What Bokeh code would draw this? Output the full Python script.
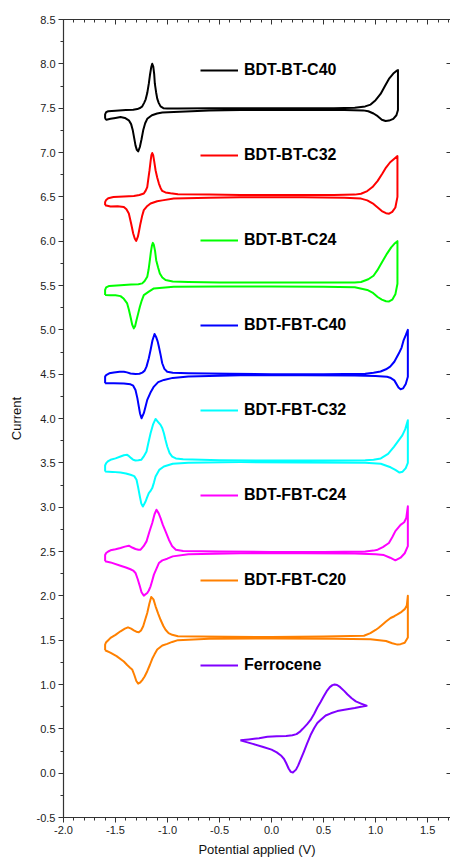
from bokeh.plotting import figure
from bokeh.models import (Range1d, LinearAxis, SingleIntervalTicker, PrintfTickFormatter,
                          Legend, LegendItem)
from bokeh.embed import file_html
from bokeh.resources import INLINE

# ---------------- data ----------------
names = ["BDT-BT-C40", "BDT-BT-C32", "BDT-BT-C24", "BDT-FBT-C40",
         "BDT-FBT-C32", "BDT-FBT-C24", "BDT-FBT-C20", "Ferrocene"]
colors = ["#000000", "#FF0000", "#00FF00", "#0000FF",
          "#00FFFF", "#FF00FF", "#FF8000", "#8000FF"]

bt_c40_x = [-1.600, -1.600, -1.590, -1.570, -1.50, -1.40, -1.33, -1.29, -1.26, -1.243, -1.225, -1.21,
            -1.195, -1.18, -1.168, -1.157, -1.147, -1.137, -1.128, -1.122, -1.11, -1.099, -1.085, -1.067,
            -1.04, -1.003, -0.90, -0.60, -0.30, 0.00, 0.30, 0.60, 0.80, 0.90, 0.952, 1.00, 1.048, 1.09,
            1.128, 1.17, 1.20, 1.215,
            1.215, 1.215, 1.20, 1.17, 1.13, 1.096, 1.06, 1.02, 0.98, 0.93, 0.88, 0.70, 0.30, 0.00, -0.30,
            -0.60, -0.94, -1.05, -1.10, -1.15, -1.195, -1.215, -1.234, -1.25, -1.266, -1.282, -1.295,
            -1.308, -1.32, -1.334, -1.35, -1.372, -1.41, -1.452, -1.50, -1.548, -1.587, -1.600]
bt_c40_y = [7.38, 7.43, 7.455, 7.465, 7.472, 7.478, 7.482, 7.49, 7.505, 7.52, 7.56, 7.60,
            7.67, 7.776, 7.88, 7.96, 8.00, 7.97, 7.88, 7.776, 7.68, 7.607, 7.56, 7.52,
            7.50, 7.495, 7.495, 7.50, 7.50, 7.50, 7.50, 7.50, 7.505, 7.52, 7.54, 7.59, 7.66, 7.75,
            7.83, 7.89, 7.92, 7.93,
            7.70, 7.48, 7.42, 7.38, 7.36, 7.355, 7.37, 7.41, 7.44, 7.465, 7.475, 7.48, 7.48, 7.48, 7.48,
            7.475, 7.456, 7.45, 7.44, 7.42, 7.38, 7.33, 7.25, 7.15, 7.062, 7.013, 7.03,
            7.08, 7.16, 7.25, 7.32, 7.363, 7.39, 7.40, 7.39, 7.38, 7.37, 7.38]

bt_c32_x = [-1.60, -1.60, -1.59, -1.57, -1.52, -1.42, -1.324, -1.27, -1.228, -1.21, -1.195, -1.185,
            -1.173, -1.163, -1.155, -1.147, -1.138, -1.128, -1.115, -1.10, -1.083, -1.067, -1.051, -1.02,
            -0.971, -0.90, -0.60, -0.30, 0.00, 0.30, 0.60, 0.80, 0.86, 0.92, 0.97, 1.02, 1.064, 1.10,
            1.14, 1.18, 1.21,
            1.21, 1.21, 1.19, 1.16, 1.13, 1.10, 1.06, 1.02, 0.98, 0.92, 0.86, 0.70, 0.30, 0.00, -0.30,
            -0.60, -0.94, -1.05, -1.10, -1.163, -1.20, -1.228, -1.245, -1.26, -1.273, -1.285, -1.301,
            -1.315, -1.33, -1.35, -1.372, -1.395, -1.42, -1.48, -1.548, -1.60]
bt_c32_y = [6.405, 6.44, 6.465, 6.485, 6.499, 6.505, 6.51, 6.52, 6.537, 6.57, 6.61, 6.70,
            6.80, 6.90, 6.97, 6.994, 6.97, 6.90, 6.80, 6.72, 6.65, 6.60, 6.567, 6.55,
            6.54, 6.53, 6.525, 6.52, 6.52, 6.52, 6.52, 6.525, 6.535, 6.565, 6.61, 6.68, 6.76, 6.83,
            6.89, 6.93, 6.96,
            6.70, 6.50, 6.38, 6.33, 6.31, 6.315, 6.34, 6.38, 6.42, 6.46, 6.48, 6.49, 6.495, 6.495, 6.495,
            6.49, 6.48, 6.46, 6.45, 6.425, 6.39, 6.35, 6.28, 6.20, 6.12, 6.05, 6.003,
            6.03, 6.087, 6.20, 6.312, 6.36, 6.386, 6.395, 6.39, 6.405]

bt_c24_x = [-1.60, -1.60, -1.59, -1.56, -1.452, -1.35, -1.28, -1.243, -1.22, -1.195, -1.182, -1.17,
            -1.16, -1.15, -1.141, -1.132, -1.12, -1.109, -1.09, -1.074, -1.05, -1.019, -0.95, -0.80,
            -0.50, 0.00, 0.50, 0.80, 0.86, 0.93, 0.98, 1.016, 1.06, 1.11, 1.15, 1.18, 1.21,
            1.21, 1.21, 1.19, 1.16, 1.13, 1.10, 1.06, 1.02, 0.97, 0.92, 0.80, 0.50, 0.00, -0.50,
            -0.94, -1.05, -1.131, -1.18, -1.228, -1.248, -1.266, -1.283, -1.298, -1.312, -1.324, -1.34,
            -1.356, -1.372, -1.388, -1.42, -1.452, -1.50, -1.55, -1.60]
bt_c24_y = [5.392, 5.45, 5.478, 5.495, 5.504, 5.51, 5.515, 5.524, 5.55, 5.598, 5.68, 5.786,
            5.88, 5.95, 5.981, 5.96, 5.89, 5.786, 5.70, 5.636, 5.59, 5.561, 5.545, 5.54,
            5.535, 5.535, 5.535, 5.535, 5.54, 5.57, 5.61, 5.67, 5.76, 5.86, 5.93, 5.97, 6.00,
            5.80, 5.52, 5.40, 5.34, 5.32, 5.322, 5.34, 5.37, 5.42, 5.45, 5.48, 5.486, 5.49, 5.488,
            5.486, 5.475, 5.467, 5.43, 5.392, 5.33, 5.26, 5.18, 5.11, 5.04, 5.017, 5.06,
            5.148, 5.23, 5.298, 5.35, 5.38, 5.39, 5.39, 5.392]

fbt_c40_x = [-1.60, -1.60, -1.59, -1.56, -1.516, -1.46, -1.42, -1.39, -1.356, -1.308, -1.27, -1.243,
             -1.22, -1.202, -1.18, -1.163, -1.145, -1.125, -1.11, -1.095, -1.083, -1.067, -1.051, -1.03,
             -1.003, -0.95, -0.80, -0.40, 0.00, 0.50, 0.90, 0.98, 1.048, 1.10, 1.14, 1.18, 1.224, 1.25,
             1.27, 1.29, 1.31,
             1.31, 1.31, 1.29, 1.265, 1.24, 1.22, 1.18, 1.14, 1.11, 1.00, 0.80, 0.30, -0.30, -0.80,
             -0.95, -1.035, -1.09, -1.131, -1.165, -1.195, -1.21, -1.228, -1.25, -1.265, -1.276, -1.29,
             -1.308, -1.33, -1.356, -1.42, -1.516, -1.60]
fbt_c40_y = [4.397, 4.472, 4.49, 4.51, 4.52, 4.528, 4.528, 4.52, 4.508, 4.502, 4.505, 4.517,
             4.54, 4.585, 4.68, 4.773, 4.88, 4.953, 4.92, 4.87, 4.81, 4.72, 4.623, 4.56,
             4.528, 4.515, 4.51, 4.505, 4.50, 4.50, 4.505, 4.515, 4.53, 4.555, 4.585, 4.64, 4.735, 4.80,
             4.885, 4.94, 5.00,
             4.70, 4.47, 4.39, 4.34, 4.33, 4.35, 4.43, 4.46, 4.47, 4.48, 4.485, 4.488, 4.488, 4.475,
             4.458, 4.435, 4.41, 4.36, 4.29, 4.21, 4.14, 4.06, 4.003, 4.06, 4.134, 4.23,
             4.322, 4.37, 4.386, 4.395, 4.397, 4.397]

fbt_c32_x = [-1.60, -1.60, -1.59, -1.57, -1.548, -1.50, -1.452, -1.42, -1.388, -1.37, -1.349, -1.33,
             -1.308, -1.28, -1.253, -1.23, -1.202, -1.185, -1.163, -1.14, -1.115, -1.09, -1.067, -1.05,
             -1.035, -1.02, -1.003, -0.98, -0.955, -0.92, -0.85, -0.50, 0.00, 0.50, 0.90, 0.98, 1.05,
             1.12, 1.176, 1.22, 1.257, 1.285, 1.31,
             1.31, 1.31, 1.29, 1.26, 1.23, 1.19, 1.144, 1.05, 0.90, 0.30, -0.30, -0.80, -0.95, -1.035,
             -1.08, -1.115, -1.13, -1.147, -1.165, -1.18, -1.20, -1.211, -1.237, -1.252, -1.266, -1.282,
             -1.298, -1.32, -1.356, -1.40, -1.452, -1.53, -1.60]
fbt_c32_y = [3.402, 3.47, 3.497, 3.52, 3.534, 3.55, 3.571, 3.585, 3.59, 3.575, 3.553, 3.535,
             3.527, 3.528, 3.534, 3.57, 3.627, 3.72, 3.834, 3.93, 3.995, 3.96, 3.928, 3.89,
             3.834, 3.76, 3.684, 3.61, 3.571, 3.55, 3.54, 3.53, 3.525, 3.525, 3.53, 3.535, 3.55,
             3.60, 3.68, 3.75, 3.81, 3.88, 3.98,
             3.70, 3.50, 3.44, 3.40, 3.39, 3.42, 3.45, 3.49, 3.50, 3.505, 3.508, 3.50, 3.49, 3.458,
             3.42, 3.346, 3.28, 3.215, 3.18, 3.159, 3.10, 3.064, 3.008, 3.04, 3.12, 3.22,
             3.309, 3.35, 3.365, 3.38, 3.39, 3.398, 3.402]

fbt_c24_x = [-1.60, -1.60, -1.59, -1.57, -1.548, -1.50, -1.452, -1.41, -1.372, -1.34, -1.308, -1.28,
             -1.259, -1.23, -1.202, -1.175, -1.147, -1.125, -1.106, -1.085, -1.067, -1.045, -1.019, -0.987,
             -0.955, -0.92, -0.85, -0.50, 0.00, 0.50, 0.90, 0.98, 1.02, 1.07, 1.128, 1.16, 1.19, 1.24,
             1.275, 1.295, 1.31,
             1.31, 1.31, 1.28, 1.24, 1.19, 1.14, 1.08, 1.00, 0.80, 0.30, -0.30, -0.80, -0.95, -1.003,
             -1.05, -1.083, -1.105, -1.131, -1.15, -1.163, -1.18, -1.195, -1.228, -1.25, -1.266, -1.287,
             -1.308, -1.33, -1.356, -1.40, -1.452, -1.548, -1.60]
fbt_c24_y = [2.389, 2.46, 2.483, 2.50, 2.513, 2.525, 2.54, 2.555, 2.565, 2.545, 2.528, 2.52,
             2.52, 2.56, 2.614, 2.72, 2.821, 2.92, 2.971, 2.93, 2.877, 2.80, 2.727, 2.633,
             2.558, 2.52, 2.505, 2.50, 2.495, 2.495, 2.50, 2.51, 2.52, 2.55, 2.596, 2.66, 2.73, 2.80,
             2.83, 2.88, 3.01,
             2.80, 2.56, 2.48, 2.43, 2.40, 2.43, 2.46, 2.47, 2.478, 2.48, 2.48, 2.47, 2.445, 2.419,
             2.40, 2.37, 2.31, 2.239, 2.16, 2.107, 2.06, 2.032, 2.002, 2.04, 2.107, 2.19,
             2.258, 2.285, 2.30, 2.32, 2.34, 2.377, 2.389]

fbt_c20_x = [-1.60, -1.60, -1.59, -1.57, -1.548, -1.50, -1.452, -1.41, -1.38, -1.35, -1.324, -1.30,
             -1.276, -1.255, -1.234, -1.215, -1.195, -1.175, -1.157, -1.135, -1.115, -1.09, -1.067, -1.04,
             -1.019, -0.99, -0.955, -0.90, -0.70, 0.00, 0.50, 0.888, 0.95, 1.00, 1.03, 1.07, 1.10, 1.144,
             1.18, 1.21, 1.25, 1.28, 1.30, 1.31,
             1.31, 1.31, 1.28, 1.24, 1.21, 1.16, 1.10, 0.95, 0.60, 0.00, -0.60, -0.90, -0.955, -1.003,
             -1.05, -1.099, -1.125, -1.147, -1.17, -1.195, -1.22, -1.243, -1.265, -1.282, -1.30, -1.32,
             -1.34, -1.36, -1.388, -1.42, -1.49, -1.55, -1.60]
fbt_c20_y = [1.386, 1.45, 1.477, 1.50, 1.526, 1.56, 1.60, 1.63, 1.645, 1.63, 1.611, 1.595,
             1.589, 1.61, 1.657, 1.73, 1.807, 1.91, 1.988, 1.96, 1.882, 1.80, 1.73, 1.66,
             1.617, 1.58, 1.56, 1.545, 1.54, 1.535, 1.54, 1.55, 1.58, 1.615, 1.64, 1.68, 1.71, 1.75,
             1.77, 1.79, 1.82, 1.85, 1.89, 2.00,
             1.75, 1.53, 1.47, 1.455, 1.45, 1.465, 1.49, 1.51, 1.515, 1.52, 1.515, 1.50, 1.48, 1.458,
             1.44, 1.394, 1.34, 1.29, 1.22, 1.15, 1.09, 1.05, 1.02, 1.01, 1.04, 1.11,
             1.17, 1.19, 1.22, 1.26, 1.32, 1.36, 1.386]

fc_x = [-0.30, -0.22, -0.12, -0.04, 0.05, 0.14, 0.20, 0.24, 0.27, 0.30, 0.34, 0.375, 0.41, 0.44,
        0.47, 0.503, 0.53, 0.56, 0.585, 0.606, 0.63, 0.66, 0.70, 0.728, 0.77, 0.81, 0.86, 0.913,
        0.86, 0.80, 0.70, 0.632, 0.57, 0.52, 0.471, 0.44, 0.41, 0.375, 0.34, 0.31, 0.28, 0.255,
        0.235, 0.205, 0.185, 0.165, 0.14, 0.12, 0.09, 0.05, 0.00, -0.08, -0.18, -0.30]
fc_y = [0.37, 0.38, 0.395, 0.41, 0.415, 0.42, 0.428, 0.44, 0.465, 0.50, 0.55, 0.60, 0.67, 0.74,
        0.80, 0.87, 0.925, 0.97, 0.993, 1.00, 0.995, 0.97, 0.925, 0.89, 0.845, 0.81, 0.785, 0.76,
        0.75, 0.735, 0.715, 0.70, 0.675, 0.65, 0.60, 0.565, 0.51, 0.43, 0.33, 0.24, 0.155, 0.085,
        0.04, 0.008, 0.015, 0.05, 0.115, 0.16, 0.20, 0.235, 0.265, 0.295, 0.33, 0.37]

xs = [bt_c40_x, bt_c32_x, bt_c24_x, fbt_c40_x, fbt_c32_x, fbt_c24_x, fbt_c20_x, fc_x]
ys = [bt_c40_y, bt_c32_y, bt_c24_y, fbt_c40_y, fbt_c32_y, fbt_c24_y, fbt_c20_y, fc_y]

x_label = "Potential applied (V)"
y_label = "Current"

# ---------------- figure ----------------
FONT = "Liberation Sans"
p = figure(width=450, height=859, output_backend="svg", toolbar_location=None,
           x_range=Range1d(-2.0, 1.72), y_range=Range1d(-0.5, 8.5),
           min_border_left=63, min_border_right=0, min_border_top=19, min_border_bottom=41,
           x_axis_label=x_label, y_axis_label=y_label)
p.grid.visible = False
p.outline_line_color = None
p.background_fill_color = "white"

for ax in (p.xaxis[0], p.yaxis[0]):
    ax.axis_line_color = "#333333"
    ax.axis_line_width = 1.2
    ax.major_tick_line_color = "#333333"
    ax.minor_tick_line_color = "#333333"
    ax.major_tick_out = 5
    ax.major_tick_in = 0
    ax.minor_tick_out = 3
    ax.minor_tick_in = 0
    ax.major_label_text_font = FONT
    ax.major_label_text_font_size = "11px"
    ax.major_label_text_color = "#222222"
    ax.axis_label_text_font = FONT
    ax.axis_label_text_font_size = "13px"
    ax.axis_label_text_font_style = "normal"
    ax.axis_label_text_color = "#111111"
    ax.formatter = PrintfTickFormatter(format="%.1f")

p.xaxis[0].ticker = SingleIntervalTicker(interval=0.5, num_minor_ticks=5)
p.yaxis[0].ticker = SingleIntervalTicker(interval=0.5, num_minor_ticks=2)
p.xaxis[0].major_label_standoff = 3
p.xaxis[0].axis_label_standoff = 5
p.yaxis[0].major_label_standoff = 3
p.yaxis[0].axis_label_standoff = 10

top = LinearAxis(ticker=SingleIntervalTicker(interval=0.5, num_minor_ticks=5),
                 major_tick_in=5, major_tick_out=0, minor_tick_in=3, minor_tick_out=0,
                 major_label_text_font_size="0px", major_label_text_color=None,
                 major_label_standoff=0,
                 axis_line_color="#333333", major_tick_line_color="#333333",
                 minor_tick_line_color="#333333", axis_line_width=1.2)
p.add_layout(top, "above")
right = LinearAxis(ticker=SingleIntervalTicker(interval=0.5, num_minor_ticks=2),
                   major_tick_in=4, major_tick_out=0, minor_tick_in=0, minor_tick_out=0,
                   major_label_text_font_size="0px", major_label_text_color=None,
                   major_label_standoff=0,
                   axis_line_color="#333333", major_tick_line_color="#333333")
p.add_layout(right, "right")

items = []
for name, x, y, c in zip(names, xs, ys, colors):
    r = p.line(x, y, line_color=c, line_width=2, line_join="round")
    items.append(LegendItem(label=name, renderers=[r]))

legend = Legend(items=items, location=(137, 142), orientation="vertical",
                glyph_width=38, glyph_height=20, label_height=20, label_standoff=6,
                spacing=65, padding=0, margin=0,
                border_line_alpha=0, background_fill_alpha=0,
                label_text_font=FONT, label_text_font_style="bold",
                label_text_font_size="16px", label_text_color="#000000")
p.add_layout(legend, "center")

open("out.html", "w").write(file_html(p, INLINE))
